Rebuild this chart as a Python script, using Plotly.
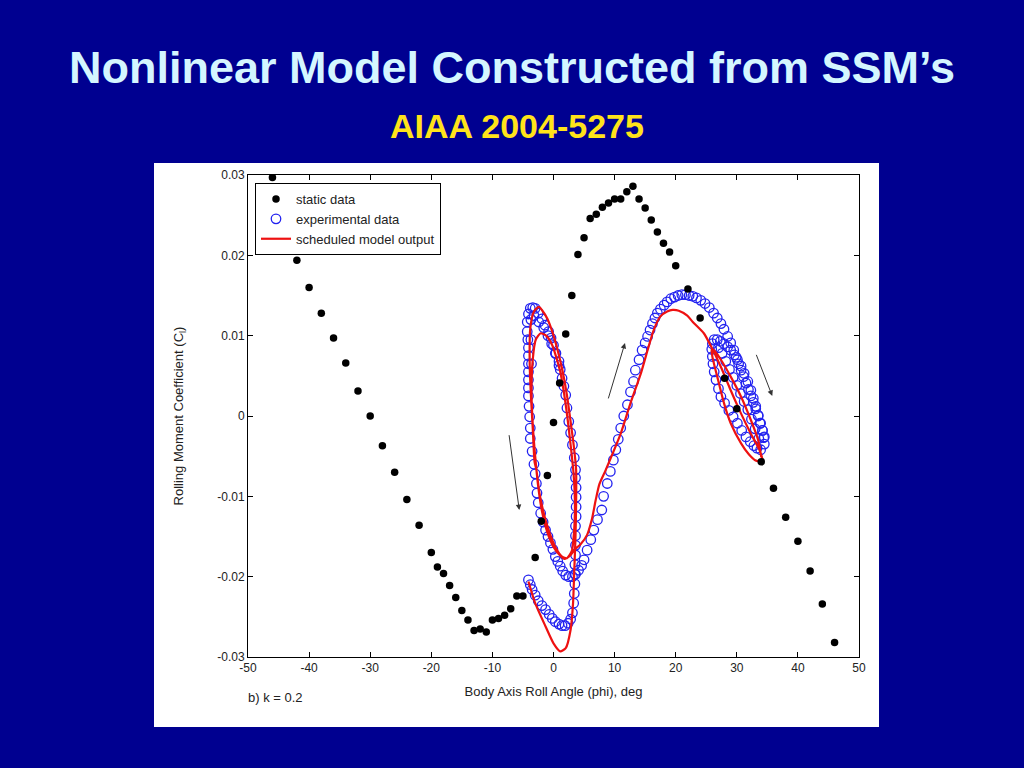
import plotly.graph_objects as go

# ---------------- data ----------------
static_phi = [-46, -42, -40, -38, -36, -34, -32, -30, -28, -26, -24, -22, -20, -19, -18,
              -17, -16, -15, -14, -13, -12, -11, -10, -9, -8, -7, -6, -5, -3, -2, -1,
              0, 1, 2, 3, 4, 5, 6, 7, 8, 9, 10, 11, 12, 13, 14, 15, 16, 17, 18, 19, 20,
              22, 24, 28, 30, 34, 36, 38, 40, 42, 44, 46]
static_cl = [0.0297, 0.0194, 0.0160, 0.0128, 0.0097, 0.0066, 0.0031, 0.0000, -0.0037,
             -0.0070, -0.0104, -0.0136, -0.0170, -0.0188, -0.0196, -0.0211, -0.0226,
             -0.0242, -0.0254, -0.0267, -0.0265, -0.0269, -0.0254, -0.0252, -0.0248,
             -0.0240, -0.0224, -0.0224, -0.0176, -0.0131, -0.0074, -0.0008, 0.0041,
             0.0102, 0.0150, 0.0201, 0.0222, 0.0246, 0.0251, 0.0260, 0.0265, 0.0270,
             0.0270, 0.0279, 0.0286, 0.0270, 0.0259, 0.0244, 0.0229, 0.0215, 0.0204,
             0.0187, 0.0158, 0.0122, 0.0047, 0.0009, -0.0057, -0.0090, -0.0126,
             -0.0156, -0.0193, -0.0234, -0.0282]

exp_phi = [
    # start hook and right column of narrow loop
    -4.1, -3.8, -3.5, -3.0, -2.5, -1.9, -1.3, -0.7, -0.2, 0.3, 0.9, 1.4, 1.9, 2.4, 2.8,
    3.1, 3.3, 3.4, 3.5, 3.5, 3.5, 3.6, 3.6, 3.6, 3.6, 3.7, 3.7, 3.7, 3.7, 3.6, 3.6,
    3.4, 3.1, 2.8, 2.5, 2.2, 2.0, 1.7, 1.4, 1.1, 0.9, 0.4, 0.0, -0.4, -0.8, -1.4,
    -1.9, -2.5, -3.0, -3.4, -3.8,
    # left side of narrow loop
    -4.1, -4.3, -4.3, -4.2, -4.1, -4.1, -4.1, -4.1, -4.1, -4.1, -4.1, -4.0, -3.9,
    -3.8, -3.8, -3.5, -3.2, -3.0, -2.8, -2.7, -2.5, -2.1, -1.7, -1.3, -0.9, -0.5,
    -0.1, 0.3, 0.7, 1.1, 1.5, 2.0, 2.5, 3.1,
    # inner row near top of narrow loop
    -3.2, -2.4, -1.6, -0.9, -0.3, 0.3, 0.9, -3.7, -3.7, -3.6,
    # big arc
    3.6, 4.1, 4.6, 5.0, 5.5, 6.1, 6.6, 7.2, 7.9, 8.2, 8.8, 9.3, 9.8, 10.2, 10.6,
    11.0, 11.5, 12.1, 12.6, 13.1, 13.4, 14.0, 14.5, 15.0, 15.4, 15.8, 16.2, 16.6,
    17.0, 17.5, 18.1, 18.6, 19.2, 19.8, 20.4, 21.0, 21.6, 22.2, 22.8, 23.4, 24.1,
    24.8, 25.5, 26.2, 26.8, 27.4, 27.9, 28.5, 29.0, 29.5, 29.9, 30.3, 30.7, 31.1,
    31.5, 31.9, 32.3, 32.7, 33.1, 33.5, 33.8, 34.2, 34.4, 34.5,
    # inner loop near 30 deg
    33.9, 33.3, 32.8, 32.2, 31.5, 30.8, 30.1, 29.4, 28.7, 28.0, 27.4, 27.0, 26.6,
    26.3, 26.1, 26.0, 25.9, 26.0, 26.3, 26.8, 27.3, 27.9, 28.5, 29.0, 29.6, 30.1,
    30.7, 31.2, 31.8, 32.3, 32.7, 33.1, 33.5, 33.9, 34.2, 34.5,
    # middle band
    27.0, 27.6, 28.2, 28.8, 29.4, 30.0, 30.6, 31.2, 31.8, 32.4, 33.0, 33.6,
]
exp_cl = [
    -0.0204, -0.0210, -0.0216, -0.0223, -0.0230, -0.0236, -0.0241, -0.0247, -0.0252,
    -0.0256, -0.0259, -0.0261, -0.0261, -0.0258, -0.0253, -0.0245, -0.0233, -0.0221,
    -0.0209, -0.0197, -0.0185, -0.0173, -0.0161, -0.0149, -0.0137, -0.0125, -0.0113,
    -0.0101, -0.0089, -0.0077, -0.0067, -0.0052, -0.0036, -0.0021, -0.0007, 0.0010,
    0.0026, 0.0037, 0.0047, 0.0058, 0.0068, 0.0078, 0.0088, 0.0097, 0.0105, 0.0113,
    0.0121, 0.0128, 0.0134, 0.0135, 0.0134,
    0.0127, 0.0117, 0.0105, 0.0095, 0.0085, 0.0075, 0.0065, 0.0055, 0.0045, 0.0035,
    0.0025, 0.0012, -0.0001, -0.0015, -0.0028, -0.0044, -0.0060, -0.0072, -0.0084,
    -0.0096, -0.0108, -0.0121, -0.0132, -0.0142, -0.0150, -0.0158, -0.0166, -0.0175,
    -0.0181, -0.0187, -0.0193, -0.0198, -0.0200, -0.0200,
    0.0125, 0.0117, 0.0110, 0.0100, 0.0090, 0.0078, 0.0063, 0.0120, 0.0095, 0.0065,
    -0.0197, -0.0192, -0.0186, -0.0179, -0.0167, -0.0154, -0.0142, -0.0129, -0.0117,
    -0.0100, -0.0084, -0.0069, -0.0055, -0.0042, -0.0029, -0.0015, 0.0000, 0.0014,
    0.0030, 0.0043, 0.0057, 0.0070, 0.0082, 0.0091, 0.0099, 0.0107, 0.0115, 0.0122,
    0.0128, 0.0133, 0.0138, 0.0142, 0.0146, 0.0148, 0.0150, 0.0151, 0.0151, 0.0150,
    0.0149, 0.0147, 0.0144, 0.0140, 0.0135, 0.0128, 0.0122, 0.0115, 0.0108, 0.0099,
    0.0091, 0.0082, 0.0073, 0.0065, 0.0057, 0.0049, 0.0041, 0.0033, 0.0025, 0.0017,
    0.0009, 0.0000, -0.0009, -0.0018, -0.0027, -0.0035,
    -0.0042, -0.0040, -0.0037, -0.0032, -0.0026, -0.0018, -0.0009, -0.0001, 0.0007,
    0.0016, 0.0024, 0.0034, 0.0045, 0.0055, 0.0065, 0.0074, 0.0083, 0.0090, 0.0095,
    0.0095, 0.0093, 0.0090, 0.0086, 0.0082, 0.0076, 0.0070, 0.0062, 0.0053, 0.0043,
    0.0032, 0.0022, 0.0012, 0.0001, -0.0009, -0.0018, -0.0026,
    0.0085, 0.0078, 0.0068, 0.0058, 0.0048, 0.0038, 0.0028, 0.0018, 0.0008, -0.0004,
    -0.0016, -0.0028,
]

model_phi = [
    -4.1, -3.0, -1.3, 0.0, 1.1, 2.0, 2.8, 3.2, 3.4, 3.6, 3.7, 3.7, 3.3, 2.8, 2.2, 1.4,
    0.6, -0.2, -1.0, -1.9, -2.4, -3.2, -3.8, -3.9, -3.7, -3.4, -3.1, -2.8, -2.3, -1.6,
    -0.8, 0.3, 1.4, 2.2,
    3.0, 3.4, 3.5, 3.3, 2.8, 2.0, 1.1, -0.2, -1.2, -2.1, -2.9, -3.4, -3.6, -3.4, -3.0,
    -2.5, -1.9, -1.0, 0.0, 1.0, 1.8, 2.7, 3.5,
    4.4, 5.5, 6.3, 6.9, 7.5, 8.5, 9.5, 11.0, 12.6, 14.3, 15.4, 16.4, 17.5, 18.6, 19.5,
    20.5, 21.9, 22.8, 24.6, 25.7, 27.4, 29.0, 30.7, 32.3, 33.7, 34.2,
    33.0, 32.0, 30.7, 29.0, 27.9, 26.8, 26.0, 25.9, 26.5, 27.4, 29.0, 30.7, 32.3,
    33.5, 34.0,
]
model_cl = [
    -0.0206, -0.0233, -0.0262, -0.0283, -0.0293, -0.0289, -0.0266, -0.0233, -0.0192,
    -0.0150, -0.0110, -0.0067, -0.0036, -0.0007, 0.0026, 0.0059, 0.0084, 0.0105,
    0.0121, 0.0132, 0.0136, 0.0130, 0.0109, 0.0068, 0.0026, -0.0015, -0.0057,
    -0.0067, -0.0096, -0.0121, -0.0142, -0.0163, -0.0175, -0.0177,
    -0.0168, -0.0140, -0.0105, -0.0073, -0.0036, 0.0014, 0.0055, 0.0088, 0.0100,
    0.0103, 0.0095, 0.0070, 0.0030, -0.0010, -0.0050, -0.0088, -0.0118, -0.0145,
    -0.0163, -0.0173, -0.0178, -0.0174, -0.0166,
    -0.0160, -0.0148, -0.0128, -0.0105, -0.0085, -0.0068, -0.0050, -0.0022, 0.0016,
    0.0053, 0.0082, 0.0107, 0.0124, 0.0130, 0.0132, 0.0131, 0.0125, 0.0117, 0.0103,
    0.0088, 0.0061, 0.0032, 0.0003, -0.0022, -0.0042, -0.0057,
    -0.0055, -0.0048, -0.0034, -0.0009, 0.0016, 0.0049, 0.0074, 0.0084, 0.0080,
    0.0070, 0.0049, 0.0024, -0.0005, -0.0030, -0.0051,
]

# direction arrows: (tail_phi, tail_cl, head_phi, head_cl)
arrows = [
    (-7.3, -0.0022, -5.6, -0.0117),
    (8.9, 0.0020, 11.7, 0.0091),
    (33.1, 0.0078, 35.8, 0.0025),
]

x_ticks = [-50, -40, -30, -20, -10, 0, 10, 20, 30, 40, 50]
x_ticklabels = ["-50", "-40", "-30", "-20", "-10", "0", "10", "20", "30", "40", "50"]
y_ticks = [-0.03, -0.02, -0.01, 0, 0.01, 0.02, 0.03]
y_ticklabels = ["-0.03", "-0.02", "-0.01", "0", "0.01", "0.02", "0.03"]

# ---------------- layout geometry (pixels) ----------------
W, H = 1024, 768
PL, PR, PT, PB = 248, 859, 175, 657   # plot area


def px_x(px):
    return (px - PL) / (PR - PL)


def px_y(py):
    return (PB - py) / (PB - PT)


FONT = "Liberation Sans, Arial, sans-serif"
NAVY = "#000090"
INK = "#222222"

fig = go.Figure()

fig.add_trace(go.Scatter(
    x=exp_phi, y=exp_cl, mode="markers", name="experimental data",
    marker=dict(symbol="circle-open", size=9.5, color="#2222f0", line=dict(width=1.3)),
    legendrank=2,
))
fig.add_trace(go.Scatter(
    x=model_phi, y=model_cl, mode="lines", name="scheduled model output",
    line=dict(color="#ee1111", width=2.2, shape="spline", smoothing=0.6),
    legendrank=3,
))
fig.add_trace(go.Scatter(
    x=static_phi, y=static_cl, mode="markers", name="static data",
    marker=dict(symbol="circle", size=7.5, color="black"),
    legendrank=1,
))

annotations = [
    dict(text="<b>Nonlinear Model Constructed from SSM’s</b>", xref="paper", yref="paper",
         x=px_x(512), y=px_y(68), xanchor="center", yanchor="middle", showarrow=False,
         font=dict(family=FONT, size=45, color="#d4f6ff")),
    dict(text="<b>AIAA 2004-5275</b>", xref="paper", yref="paper",
         x=px_x(517), y=px_y(126), xanchor="center", yanchor="middle", showarrow=False,
         font=dict(family=FONT, size=34, color="#ffe31a")),
    dict(text="b) k = 0.2", xref="paper", yref="paper",
         x=px_x(246), y=px_y(697), xanchor="left", yanchor="middle", showarrow=False,
         font=dict(family=FONT, size=13, color=INK)),
]
for tx, ty, hx, hy in arrows:
    annotations.append(dict(
        x=hx, y=hy, ax=tx, ay=ty, xref="x", yref="y", axref="x", ayref="y",
        text="", showarrow=True, arrowhead=2, arrowsize=1.1, arrowwidth=1,
        arrowcolor="#333333",
    ))

fig.update_layout(
    width=W, height=H,
    margin=dict(l=PL, r=W - PR, t=PT, b=H - PB),
    paper_bgcolor=NAVY, plot_bgcolor="white",
    font=dict(family=FONT, color=INK),
    showlegend=True,
    legend=dict(
        x=px_x(255), y=px_y(183), xanchor="left", yanchor="top",
        bgcolor="white", bordercolor="black", borderwidth=1,
        font=dict(family=FONT, size=13, color=INK),
        tracegroupgap=0, itemwidth=30,
    ),
    annotations=annotations,
    shapes=[dict(type="rect", xref="paper", yref="paper", layer="below",
                 x0=px_x(154), x1=px_x(879), y0=px_y(727), y1=px_y(163),
                 fillcolor="white", line=dict(width=0))],
    xaxis=dict(
        range=[-50, 50], tickvals=x_ticks, ticktext=x_ticklabels, ticks="inside",
        ticklen=5, tickcolor="black",
        showline=True, linecolor="black", linewidth=1, mirror="ticks",
        showgrid=False, zeroline=False,
        tickfont=dict(family=FONT, size=12, color=INK),
        title=dict(text="Body Axis Roll Angle (phi), deg", standoff=12,
                   font=dict(family=FONT, size=13, color=INK)),
    ),
    yaxis=dict(
        range=[-0.03, 0.03], tickvals=y_ticks, ticktext=y_ticklabels, ticks="inside",
        ticklen=5, tickcolor="black",
        showline=True, linecolor="black", linewidth=1, mirror="ticks",
        showgrid=False, zeroline=False,
        tickfont=dict(family=FONT, size=12, color=INK),
        title=dict(text="Rolling Moment Coefficient (C<sub>l</sub>)", standoff=30,
                   font=dict(family=FONT, size=13, color=INK)),
    ),
)

fig.write_html(
    "out.html",
    config={"displayModeBar": False},
    post_script="document.body.style.margin='0';"
                "document.body.style.background='#000090';"
                "document.body.style.overflow='hidden';",
)
